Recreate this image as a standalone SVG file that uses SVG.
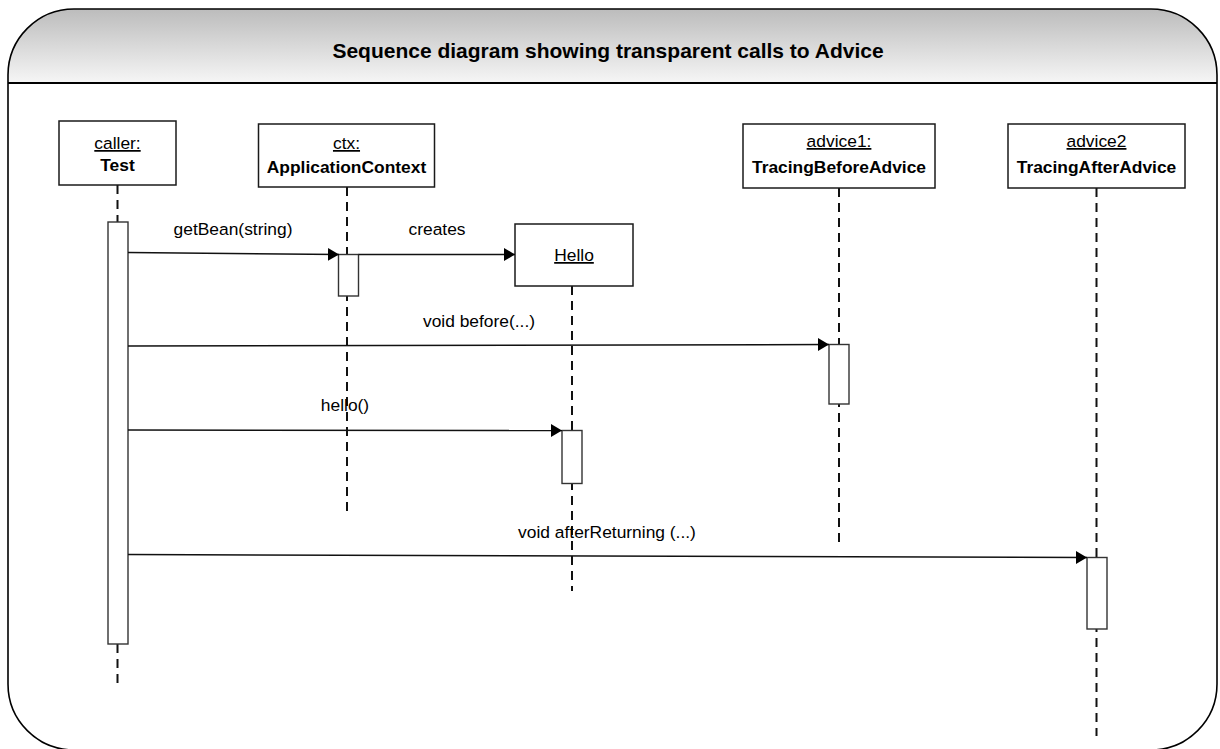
<svg xmlns="http://www.w3.org/2000/svg" width="1220" height="749" viewBox="0 0 1220 749">
<style>
text{font-family:"Liberation Sans",Arial,sans-serif;fill:#000}
.t{font-size:21px;font-weight:bold}
.n{font-size:17.4px}
.b{font-size:17.4px;font-weight:bold}
.u{text-decoration:underline}
.box{fill:#fff;stroke:#1a1a1a;stroke-width:1.5}
.act{fill:#fff;stroke:#333;stroke-width:1.4}
.life{stroke:#111;stroke-width:2;stroke-dasharray:9 6;fill:none}
.msg{stroke:#111;stroke-width:1.5;fill:none;marker-end:url(#arr)}
</style>
<defs>
<linearGradient id="hdr" x1="0" y1="0" x2="0" y2="1">
<stop offset="0" stop-color="#bcbcbc"/>
<stop offset="1" stop-color="#f6f6f6"/>
</linearGradient>
<marker id="arr" markerUnits="userSpaceOnUse" markerWidth="12" markerHeight="14" refX="11" refY="7" orient="auto">
<path d="M0,0.5 L11,7 L0,13.5 Z" fill="#000"/>
</marker>
</defs>
<g id="frame">
<rect x="8" y="9" width="1209" height="741" rx="66" ry="66" fill="#fff"/>
<path d="M8,83 V75 A66,66 0 0 1 74,9 H1151 A66,66 0 0 1 1217,75 V83 Z" fill="url(#hdr)"/>
<line x1="8" y1="83" x2="1217" y2="83" stroke="#000" stroke-width="2"/>
<rect x="8" y="9" width="1209" height="741" rx="66" ry="66" fill="none" stroke="#000" stroke-width="1.6"/>
<text class="t" x="608" y="58" text-anchor="middle">Sequence diagram showing transparent calls to Advice</text>
</g>
<g id="lifelines">
<line class="life" x1="117.5" y1="185" x2="117.5" y2="222"/>
<line class="life" x1="117.5" y1="644" x2="117.5" y2="688"/>
<line class="life" x1="347" y1="187" x2="347" y2="516"/>
<line class="life" x1="572" y1="286" x2="572" y2="591"/>
<line class="life" x1="839" y1="188" x2="839" y2="546"/>
<line class="life" x1="1096.5" y1="188" x2="1096.5" y2="736"/>
</g>
<g id="caller">
<rect class="box" x="59" y="121" width="117" height="64"/>
<text class="n u" x="117.5" y="149" text-anchor="middle">caller:</text>
<text class="b" x="117.5" y="171" text-anchor="middle">Test</text>
<rect class="act" x="108" y="222" width="20" height="422"/>
</g>
<g id="ctx">
<rect class="box" x="258.5" y="124" width="176" height="63"/>
<text class="n u" x="346.5" y="149" text-anchor="middle">ctx:</text>
<text class="b" x="346.5" y="173" text-anchor="middle">ApplicationContext</text>
<rect class="act" x="338.5" y="254.5" width="20" height="41.5"/>
</g>
<g id="hello">
<rect class="box" x="515" y="224" width="118" height="62"/>
<text class="n u" x="574" y="261" text-anchor="middle">Hello</text>
<rect class="act" x="562" y="430.5" width="20" height="53"/>
</g>
<g id="advice1">
<rect class="box" x="743" y="124" width="192" height="64"/>
<text class="n u" x="839" y="147" text-anchor="middle">advice1:</text>
<text class="b" x="839" y="173" text-anchor="middle">TracingBeforeAdvice</text>
<rect class="act" x="829" y="344.5" width="20" height="59.5"/>
</g>
<g id="advice2">
<rect class="box" x="1008" y="124" width="177" height="64"/>
<text class="n u" x="1096.5" y="147" text-anchor="middle">advice2</text>
<text class="b" x="1096.5" y="173" text-anchor="middle">TracingAfterAdvice</text>
<rect class="act" x="1087" y="557.5" width="20" height="71.5"/>
</g>
<g id="connectors">
<line class="msg" x1="128" y1="252.5" x2="339" y2="254.5"/>
<text class="n" x="233" y="235" text-anchor="middle">getBean(string)</text>
<line class="msg" x1="358.5" y1="254.5" x2="515" y2="254.5"/>
<text class="n" x="437" y="235" text-anchor="middle">creates</text>
<line class="msg" x1="128" y1="346" x2="829" y2="344.5"/>
<text class="n" x="479" y="327" text-anchor="middle">void before(...)</text>
<line class="msg" x1="128" y1="430" x2="562" y2="430.5"/>
<text class="n" x="345" y="411" text-anchor="middle">hello()</text>
<line class="msg" x1="128" y1="554.5" x2="1087" y2="557.5"/>
<text class="n" x="607" y="538" text-anchor="middle">void afterReturning (...)</text>
</g>
</svg>
